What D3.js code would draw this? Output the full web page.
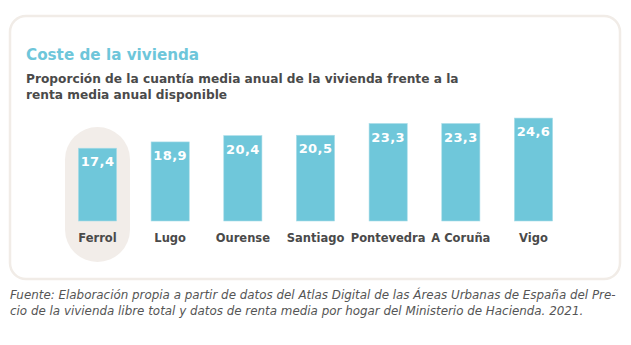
<!DOCTYPE html>
<html>
<head>
<meta charset="utf-8">
<title>Coste de la vivienda</title>
<style>
  body { margin: 0; background: #fff; }
  svg { display: block; }
  text { font-family: "DejaVu Sans", Verdana, sans-serif; }
</style>
</head>
<body>
<script src="https://d3js.org/d3.v7.min.js"></script>
<script>
// datos: proporción cuantía media anual vivienda / renta media anual
var ciudades = ["Ferrol", "Lugo", "Ourense", "Santiago", "Pontevedra", "A Coruña", "Vigo"];
var valores = [17.4, 18.9, 20.4, 20.5, 23.3, 23.3, 24.6];
var destacada = "Ferrol";

var width = 631, height = 345;

var svg = d3.select("body").append("svg")
  .attr("width", width)
  .attr("height", height);

// tarjeta con borde redondeado
svg.append("rect")
  .attr("x", 10).attr("y", 16)
  .attr("width", 610).attr("height", 263)
  .attr("rx", 16)
  .attr("fill", "#fff")
  .attr("stroke", "#f1ece7")
  .attr("stroke-width", 2.5);

svg.append("text")
  .attr("x", 26).attr("y", 60)
  .attr("fill", "#6ec6da")
  .style("font-weight", "bold")
  .style("font-size", "15.2px")
  .text("Coste de la vivienda");

var subtitulo = ["Proporción de la cuantía media anual de la vivienda frente a la",
                 "renta media anual disponible"];
svg.selectAll("text.sub").data(subtitulo).enter().append("text")
  .attr("class", "sub")
  .attr("x", 26)
  .attr("y", function(d, i) { return 82.5 + i * 16.5; })
  .attr("fill", "#4a4a4a")
  .style("font-weight", "bold")
  .style("font-size", "12.2px")
  .text(function(d) { return d; });

// escalas
var x = d3.scaleBand()
  .domain(ciudades)
  .range([61, 570])
  .paddingInner(0.475)
  .paddingOuter(0.24);

var base = 221;
var y = d3.scaleLinear()
  .domain([0, 25])
  .range([base, base - 104.6]);

// fondo resaltado para Ferrol
svg.append("rect")
  .attr("x", x(destacada) + x.bandwidth() / 2 - 32.5)
  .attr("y", 127)
  .attr("width", 65)
  .attr("height", 135)
  .attr("rx", 32.5)
  .attr("fill", "#f2ede9");

var g = svg.selectAll("g.barra")
  .data(ciudades)
  .enter().append("g")
  .attr("class", "barra");

g.append("rect")
  .attr("x", function(d) { return x(d); })
  .attr("y", function(d, i) { return y(valores[i]); })
  .attr("width", x.bandwidth())
  .attr("height", function(d, i) { return base - y(valores[i]); })
  .attr("fill", "#6fc7da")
  .attr("stroke", "#a8dce8")
  .attr("stroke-width", 0.6);

g.append("text")
  .attr("x", function(d) { return x(d) + x.bandwidth() / 2; })
  .attr("y", function(d, i) { return y(valores[i]) + 18; })
  .attr("text-anchor", "middle")
  .attr("fill", "#fff")
  .style("font-weight", "bold")
  .style("font-size", "13px")
  .style("letter-spacing", "0.4px")
  .text(function(d, i) { return d3.format(".1f")(valores[i]).replace(".", ","); });

g.append("text")
  .attr("x", function(d) { return x(d) + x.bandwidth() / 2; })
  .attr("y", 242)
  .attr("text-anchor", "middle")
  .attr("fill", "#4a4a4a")
  .style("font-weight", "bold")
  .style("font-size", "11.5px")
  .text(function(d) { return d; });

// fuente
var fuente = ["Fuente: Elaboración propia a partir de datos del Atlas Digital de las Áreas Urbanas de España del Pre-",
              "cio de la vivienda libre total y datos de renta media por hogar del Ministerio de Hacienda. 2021."];
svg.selectAll("text.fuente").data(fuente).enter().append("text")
  .attr("class", "fuente")
  .attr("x", 10)
  .attr("y", function(d, i) { return 299 + i * 16; })
  .attr("fill", "#555")
  .style("font-style", "italic")
  .style("font-size", "11.9px")
  .text(function(d) { return d; });
</script>
</body>
</html>
